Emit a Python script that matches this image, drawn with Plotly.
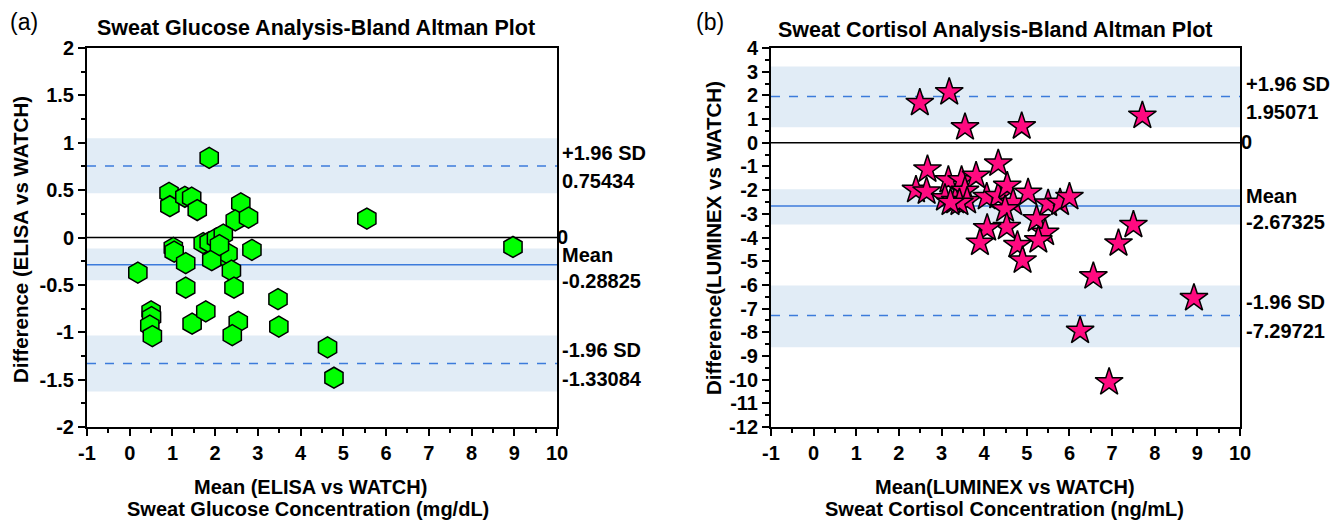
import plotly.graph_objects as go

# ---- Sweat glucose (ELISA vs WATCH) ----
glu_mean = [1.86, 0.92, 0.94, 1.29, 1.45, 1.58, 2.60, 2.47, 2.78, 1.02,
            1.04, 1.31, 0.19, 1.72, 1.86, 2.03, 2.19, 2.19, 2.30, 2.38,
            2.44, 2.86, 1.31, 0.50, 0.51, 0.47, 0.53, 1.46, 1.78, 2.54,
            2.40, 3.47, 3.49, 5.55, 8.97, 4.63, 4.78, 1.92, 2.10]
glu_diff = [0.84, 0.47, 0.33, 0.43, 0.42, 0.29, 0.36, 0.18, 0.21, -0.11,
            -0.15, -0.27, -0.37, -0.06, -0.05, -0.01, 0.03, -0.19, -0.17, -0.35,
            -0.53, -0.13, -0.53, -0.78, -0.84, -0.93, -1.04, -0.91, -0.78, -0.89,
            -1.03, -0.65, -0.94, 0.20, -0.10, -1.16, -1.48, -0.24, -0.08]
glu_limits = {"upper": 0.75434, "mean": -0.28825, "lower": -1.33084}
glu_bands = [(0.466, 1.048), (-0.452, -0.116), (-1.626, -1.034)]
glu_yticks = [-2, -1.5, -1, -0.5, 0, 0.5, 1, 1.5, 2]

# ---- Sweat cortisol (LUMINEX vs WATCH) ----
cor_mean = [2.49, 3.18, 3.55, 4.88, 7.71, 2.67, 2.40, 2.65, 3.16, 3.47,
            3.81, 4.33, 3.08, 3.32, 3.55, 3.60, 4.06, 4.33, 4.54, 4.68,
            4.49, 5.03, 5.50, 5.78, 6.00, 5.23, 5.43, 5.27, 4.53, 4.07,
            3.90, 4.78, 4.90, 7.50, 7.15, 6.56, 6.25, 6.93, 8.92, 3.42, 3.21]
cor_diff = [1.68, 2.13, 0.65, 0.69, 1.14, -1.13, -1.99, -2.06, -1.58, -1.58,
            -1.40, -0.88, -2.34, -2.46, -2.03, -2.46, -2.29, -2.25, -1.82, -2.53,
            -2.81, -2.11, -2.57, -2.53, -2.29, -3.23, -3.80, -4.12, -3.56, -3.61,
            -4.22, -4.32, -4.97, -3.47, -4.25, -5.64, -7.94, -10.11, -6.56, -2.53, -2.53]
cor_limits = {"upper": 1.95071, "mean": -2.67325, "lower": -7.29721}
cor_bands = [(0.65, 3.22), (-3.45, -1.96), (-8.63, -6.03)]
cor_yticks = list(range(-12, 5))

x_ticks = list(range(-1, 11))

FONT = "Liberation Sans, Arial, sans-serif"
BAND = "#E1ECF6"
LINE_BLUE = "#3C7BDB"

W, H = 1335, 521
fig = go.Figure()

fig.add_trace(go.Scatter(
    x=glu_mean, y=glu_diff, mode="markers", xaxis="x", yaxis="y",
    marker=dict(symbol="hexagon", size=21, color="#00FF00",
                line=dict(color="black", width=1.5)),
    showlegend=False, hoverinfo="x+y"))

fig.add_trace(go.Scatter(
    x=cor_mean, y=cor_diff, mode="markers", xaxis="x2", yaxis="y2",
    marker=dict(symbol="star", size=21, color="#FF0A80",
                line=dict(color="black", width=1.5)),
    showlegend=False, hoverinfo="x+y"))

shapes = []
annotations = []


def add_panel(xref, yref, bands, limits, label_x):
    for lo, hi in bands:
        shapes.append(dict(type="rect", xref=f"{xref} domain", yref=yref,
                           x0=0, x1=1, y0=lo, y1=hi, fillcolor=BAND,
                           line=dict(width=0), layer="below"))
    shapes.append(dict(type="line", xref=f"{xref} domain", yref=yref,
                       x0=0, x1=1, y0=0, y1=0,
                       line=dict(color="black", width=1.5), layer="below"))
    shapes.append(dict(type="line", xref=f"{xref} domain", yref=yref,
                       x0=0, x1=1, y0=limits["mean"], y1=limits["mean"],
                       line=dict(color=LINE_BLUE, width=1.5), layer="below"))
    for key in ("upper", "lower"):
        shapes.append(dict(type="line", xref=f"{xref} domain", yref=yref,
                           x0=0, x1=1, y0=limits[key], y1=limits[key],
                           line=dict(color=LINE_BLUE, width=1.5, dash="dash"),
                           layer="below"))
    lab = dict(xref="paper", yref=yref, x=label_x, xanchor="left",
               showarrow=False, borderpad=0,
               font=dict(family=FONT, size=20, color="black", weight="bold"))
    annotations.append(dict(lab, y=0, text="0", x=label_x - 5 / W, yshift=1))
    annotations.append(dict(lab, y=limits["upper"], text="+1.96 SD", yshift=13))
    annotations.append(dict(lab, y=limits["upper"], text=f"{limits['upper']:g}", yshift=-15))
    annotations.append(dict(lab, y=limits["mean"], text="Mean", yshift=10))
    annotations.append(dict(lab, y=limits["mean"], text=f"{limits['mean']:g}", yshift=-16))
    annotations.append(dict(lab, y=limits["lower"], text="-1.96 SD", yshift=14))
    annotations.append(dict(lab, y=limits["lower"], text=f"{limits['lower']:g}", yshift=-15))


add_panel("x", "y", glu_bands, glu_limits, 561 / W)
add_panel("x2", "y2", cor_bands, cor_limits, 1245 / W)


def txt(x, y, text, size=20, bold=True, angle=0):
    annotations.append(dict(xref="paper", yref="paper", x=x / W, y=1 - y / H,
                            text=text, showarrow=False, textangle=angle,
                            xanchor="center", yanchor="middle",
                            font=dict(family=FONT, size=size, color="black",
                                      weight="bold" if bold else "normal")))


txt(24, 22, "(a)", size=23, bold=False)
txt(710, 22, "(b)", size=23, bold=False)
txt(316, 28, "Sweat Glucose Analysis-Bland Altman Plot", size=21.5)
txt(995, 30, "Sweat Cortisol Analysis-Bland Altman Plot", size=21.5)
txt(310, 487, "Mean (ELISA vs WATCH)")
txt(308, 509, "Sweat Glucose Concentration (mg/dL)")
txt(1005, 487, "Mean(LUMINEX vs WATCH)")
txt(1005, 509, "Sweat Cortisol Concentration (ng/mL)")
txt(20, 240, "Difference (ELISA vs WATCH)", size=20.5, angle=-90)
txt(713, 238, "Difference(LUMINEX vs WATCH)", size=20.5, angle=-90)


def tick_text(vals):
    return [f"{v:g}" for v in vals]


ydom = [1 - 427 / H, 1 - 48 / H]
axis_common = dict(showgrid=False, zeroline=False, showline=True,
                   linecolor="black", linewidth=2, mirror=True,
                   ticks="outside", ticklen=7, tickwidth=2, tickcolor="black",
                   automargin=False, tickmode="array",
                   tickfont=dict(family=FONT, size=20, color="black", weight="bold"))

fig.update_layout(
    width=W, height=H, margin=dict(l=0, r=0, t=0, b=0, autoexpand=False),
    paper_bgcolor="white", plot_bgcolor="white",
    xaxis=dict(axis_common, domain=[87 / W, 557 / W], range=[-1, 10],
               tickvals=x_ticks, ticktext=tick_text(x_ticks), anchor="y",
               minor=dict(dtick=0.5, tick0=-1, ticks="outside", ticklen=4,
                          tickwidth=2, tickcolor="black")),
    yaxis=dict(axis_common, domain=ydom, range=[-2, 2],
               tickvals=glu_yticks, ticktext=tick_text(glu_yticks), anchor="x",
               minor=dict(dtick=0.25, tick0=0, ticks="outside", ticklen=4,
                          tickwidth=2, tickcolor="black")),
    xaxis2=dict(axis_common, domain=[771 / W, 1240 / W], range=[-1, 10],
                tickvals=x_ticks, ticktext=tick_text(x_ticks), anchor="y2",
                minor=dict(dtick=0.5, tick0=-1, ticks="outside", ticklen=4,
                           tickwidth=2, tickcolor="black")),
    yaxis2=dict(axis_common, domain=ydom, range=[-12, 4],
                tickvals=cor_yticks, ticktext=tick_text(cor_yticks), anchor="x2",
                minor=dict(dtick=0.5, tick0=0, ticks="outside", ticklen=4,
                           tickwidth=2, tickcolor="black")),
    shapes=shapes, annotations=annotations,
)

fig.write_html("out.html")
